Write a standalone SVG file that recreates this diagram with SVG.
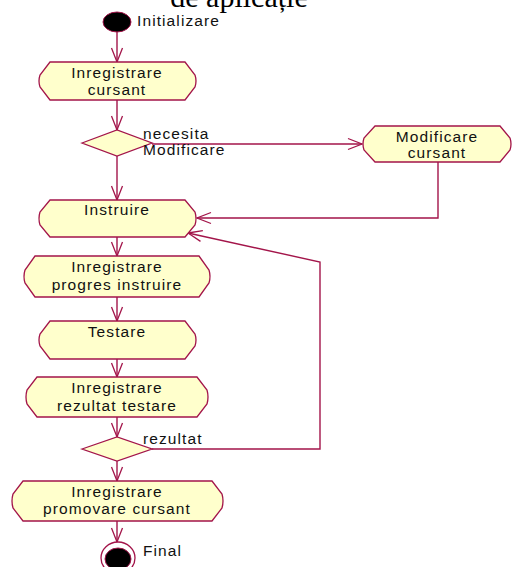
<svg xmlns="http://www.w3.org/2000/svg" width="513" height="567" viewBox="0 0 513 567">
<style>
.n{fill:#ffffcc;stroke:#a3154a;stroke-width:1.3}
.t{font-family:"Liberation Sans",Arial,sans-serif;font-size:15.5px;letter-spacing:1.1px;fill:#111}
.c{text-anchor:middle}
.e{fill:none;stroke:#a3154a;stroke-width:1.4}
</style>
<defs>
<marker id="a" markerUnits="userSpaceOnUse" markerWidth="20" markerHeight="14" viewBox="-16 -7 18 14" refX="0" refY="0" orient="auto">
<path d="M-14,-5.5 L0,0 L-14,5.5" fill="none" stroke="#a3154a" stroke-width="1.3"/>
</marker>
</defs>
<rect width="513" height="567" fill="#fff"/>
<text x="239" y="7" text-anchor="middle" font-family="'Liberation Serif','Times New Roman',serif" font-size="30" fill="#000">de aplicație</text>

<g id="connectors" class="e">
<path d="M117,32 V62" marker-end="url(#a)"/>
<path d="M117,100 V130" marker-end="url(#a)"/>
<path d="M152,144 H362" marker-end="url(#a)"/>
<path d="M438,162 V218 H197" marker-end="url(#a)"/>
<path d="M117,156 V200" marker-end="url(#a)"/>
<path d="M117,237 V256" marker-end="url(#a)"/>
<path d="M117,297 V321" marker-end="url(#a)"/>
<path d="M117,359 V377" marker-end="url(#a)"/>
<path d="M117,417 V437" marker-end="url(#a)"/>
<path d="M152,449 H320 V262 L188,233" marker-end="url(#a)"/>
<path d="M117,461 V481" marker-end="url(#a)"/>
<path d="M117,521 V542" marker-end="url(#a)"/>
</g>

<g id="start">
<ellipse cx="117" cy="22" rx="14" ry="10" fill="#000" stroke="#a3154a" stroke-width="1"/>
<text class="t" x="137" y="26">Initializare</text>
</g>

<g id="inregistrare-cursant">
<path class="n" d="M50,62 H185 L195,75 Q197,81 195,87 L185,100 H50 L40,87 Q38,81 40,75 Z"/>
<text class="t c" x="117" y="78">Inregistrare</text>
<text class="t c" x="117" y="94.5">cursant</text>
</g>

<g id="decizie1">
<path class="n" d="M82,143 L117,130 L152,143 L117,156 Z"/>
<text class="t" x="143" y="139">necesita</text>
<text class="t" x="143" y="155">Modificare</text>
</g>

<g id="modificare-cursant">
<path class="n" d="M375,126 H500 L510,138 Q512,144 510,150 L500,162 H375 L364,150 Q362,144 364,138 Z"/>
<text class="t c" x="437" y="142">Modificare</text>
<text class="t c" x="437" y="158">cursant</text>
</g>

<g id="instruire">
<path class="n" d="M50,200 H185 L195,212 Q197,218.5 195,225 L185,237 H50 L40,225 Q38,218.5 40,212 Z"/>
<text class="t c" x="117" y="215">Instruire</text>
</g>

<g id="progres-instruire">
<path class="n" d="M35,256 H199 L209,270 Q211,276.5 209,283 L199,297 H35 L25,283 Q23,276.5 25,270 Z"/>
<text class="t c" x="117" y="272">Inregistrare</text>
<text class="t c" x="117" y="290">progres instruire</text>
</g>

<g id="testare">
<path class="n" d="M50,321 H185 L195,334 Q197,340 195,346 L185,359 H50 L40,346 Q38,340 40,334 Z"/>
<text class="t c" x="117" y="337">Testare</text>
</g>

<g id="rezultat-testare">
<path class="n" d="M37,377 H197 L207,390 Q209,397 207,404 L197,417 H37 L27,404 Q25,397 27,390 Z"/>
<text class="t c" x="117" y="393">Inregistrare</text>
<text class="t c" x="117" y="411">rezultat testare</text>
</g>

<g id="decizie2">
<path class="n" d="M82,449 L117,437 L152,449 L117,461 Z"/>
<text class="t" x="143" y="444">rezultat</text>
</g>

<g id="promovare-cursant">
<path class="n" d="M23,481 H212 L222,494 Q224,501 222,508 L212,521 H23 L13,508 Q11,501 13,494 Z"/>
<text class="t c" x="117" y="497">Inregistrare</text>
<text class="t c" x="117" y="514">promovare cursant</text>
</g>

<g id="final">
<ellipse cx="118" cy="558" rx="17" ry="16" fill="#fff" stroke="#a3154a" stroke-width="1.3"/>
<ellipse cx="118" cy="559" rx="13" ry="11" fill="#000" stroke="#a3154a" stroke-width="1"/>
<text class="t" x="143" y="556">Final</text>
</g>
</svg>
